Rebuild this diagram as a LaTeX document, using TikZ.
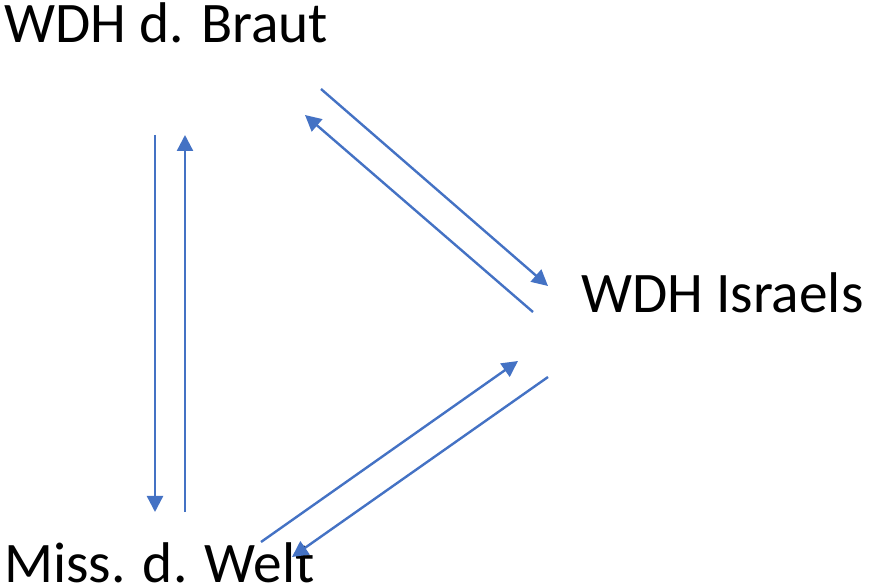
\documentclass[tikz,border=0pt]{standalone}
\usepackage{fontspec}
\setmainfont{Carlito}
\usetikzlibrary{arrows.meta}

\begin{document}
\begin{tikzpicture}[x=0.75pt, y=-0.75pt,
    every node/.style={anchor=base west, inner sep=0pt, font=\fontsize{43}{50}\selectfont},
    link/.style={draw=linkblue, line width=1.8pt, -{Triangle[length=12pt, width=12pt]}}]
    \definecolor{linkblue}{HTML}{4472C4}
    \useasboundingbox (0,0) rectangle (869,588);

    % Draw the labels
    \node (braut)  at (4,43)   {WDH d. Braut};
    \node (israel) at (581,313) {WDH Israels};
    \node (welt)   at (4,582)  {Miss. d. Welt};

    % End points of the arrows
    \coordinate (b1) at (155,135);   \coordinate (w1) at (155,512);
    \coordinate (w2) at (185,512);   \coordinate (b2) at (185,135);
    \coordinate (b3) at (321,89);    \coordinate (i3) at (548,286);
    \coordinate (i4) at (533,312);   \coordinate (b4) at (305,115);
    \coordinate (w5) at (261,542);   \coordinate (i5) at (518,361);
    \coordinate (i6) at (548,377);   \coordinate (w6) at (292,557);

    % Connect the labels with arrows
    \draw[link] (b1) -- (w1);
    \draw[link] (w2) -- (b2);
    \draw[link] (b3) -- (i3);
    \draw[link] (i4) -- (b4);
    \draw[link] (w5) -- (i5);
    \draw[link] (i6) -- (w6);
\end{tikzpicture}
\end{document}
